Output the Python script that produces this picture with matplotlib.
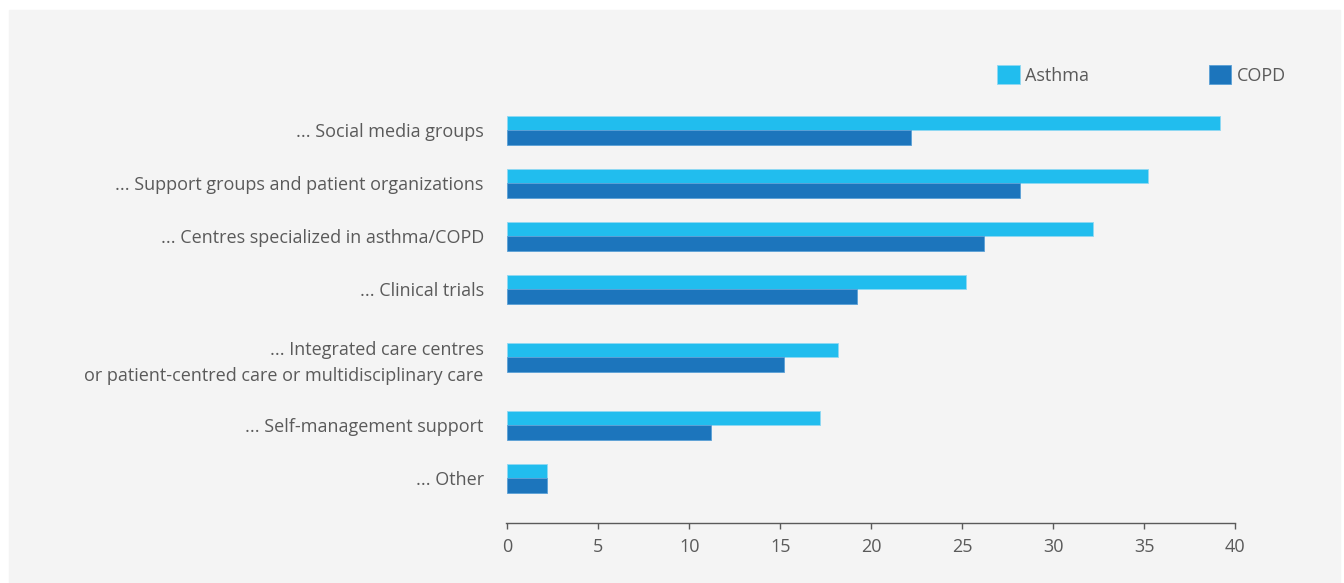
import matplotlib.pyplot as plt
import numpy as np
from matplotlib.patches import Rectangle

plt.rcParams['font.family'] = ['Open Sans', 'DejaVu Sans']
plt.rcParams['font.size'] = 13

categories = [
    "... Social media groups",
    "... Support groups and patient organizations",
    "... Centres specialized in asthma/COPD",
    "... Clinical trials",
    "... Integrated care centres\nor patient-centred care or multidisciplinary care",
    "... Self-management support",
    "... Other",
]
asthma = [39.2, 35.2, 32.2, 25.2, 18.2, 17.2, 2.2]
copd = [22.2, 28.2, 26.2, 19.2, 15.2, 11.2, 2.2]
xticks = [0, 5, 10, 15, 20, 25, 30, 35, 40]

C_ASTHMA = "#21bdee"
C_COPD = "#1c75bc"
TXT = "#5a5a5a"

W, H = 1344, 583
fig = plt.figure(figsize=(W / 100, H / 100), dpi=100, facecolor="white")
fig.patches.append(Rectangle((9 / W, 0), (1340 - 9) / W, (H - 10) / H,
                             transform=fig.transFigure, color="#f4f4f4", zorder=-5))

# axes in pixel space: x 506..1235, y 60..523
ax = fig.add_axes([506 / W, 1 - 523 / H, (1235 - 506) / W, (523 - 60) / H])
ax.set_facecolor("none")

# category centres: rows with two-line labels take more room
lines = np.array([c.count("\n") + 1 for c in categories])
slot = 23 + 30 * lines
centres = np.concatenate([[0], np.cumsum((slot[:-1] + slot[1:]) / 2)])

bh = 14.5
ax.barh(centres - bh / 2, asthma, height=bh, color=C_ASTHMA, label="Asthma",
        edgecolor="#8fd8f3", linewidth=0.6)
ax.barh(centres + bh / 2, copd, height=bh, color=C_COPD, label="COPD",
        edgecolor="#5aa0d6", linewidth=0.6)

ax.set_ylim(523 - 130, 60 - 130)
ax.set_xlim(-0.07, 40)

ax.set_yticks(centres)
ax.set_yticklabels(categories, color=TXT, linespacing=1.6)
ax.tick_params(axis="y", length=0, pad=16)
ax.set_xticks(xticks)
ax.tick_params(axis="x", length=4, width=1, color=TXT, labelcolor=TXT, pad=7)

for s in ["top", "right", "left"]:
    ax.spines[s].set_visible(False)
ax.spines["bottom"].set_color(TXT)
ax.spines["bottom"].set_linewidth(1)

fig.legend(loc="upper left", bbox_to_anchor=(997 / W, 1 - 65 / H), ncol=2,
           frameon=False, handlelength=1.27, handleheight=1.27,
           handletextpad=0.3, columnspacing=6.6, borderpad=0, borderaxespad=0,
           labelcolor=TXT)

fig.savefig("out.png", dpi=100, facecolor="white")
